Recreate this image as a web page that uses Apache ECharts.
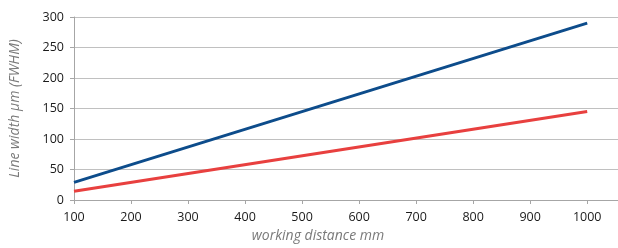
<!DOCTYPE html>
<html>
<head>
<meta charset="utf-8">
<script src="https://cdn.jsdelivr.net/npm/echarts@6/dist/echarts.min.js"></script>
<style>
  html, body { margin: 0; padding: 0; background: #fff; }
  #main { width: 618px; height: 248px; }
</style>
</head>
<body>
<div id="main"></div>
<script>
// working distance (mm) and line width (um FWHM)
const distance = [100, 1000];
const lineBlue = [29, 290];
const lineRed = [14.5, 145];
const xTicks = [100, 200, 300, 400, 500, 600, 700, 800, 900, 1000];

const chart = echarts.init(document.getElementById("main"));

const toPairs = (xs, ys) => xs.map((x, i) => [x, ys[i]]);

const option = {
  animation: false,
  textStyle: { fontFamily: "Open Sans" },
  grid: { left: 74, right: 0, top: 17, bottom: 47 },
  xAxis: {
    type: "value",
    min: 100,
    max: 1054,
    interval: 100,
    name: "working distance mm",
    nameLocation: "middle",
    nameGap: 29,
    nameTextStyle: {
      color: "#7a7a7a",
      fontStyle: "italic",
      fontSize: 14,
      padding: [0, 56, 0, 0]
    },
    axisLine: { lineStyle: { color: "#a6a6a6" } },
    axisTick: {
      show: true,
      length: 4,
      customValues: xTicks,
      lineStyle: { color: "#a6a6a6" }
    },
    axisLabel: {
      color: "#1a1a1a",
      fontSize: 12.5,
      margin: 11,
      customValues: xTicks,
      formatter: (v) => String(v)
    },
    splitLine: { show: false }
  },
  yAxis: {
    type: "value",
    min: 0,
    max: 300,
    interval: 50,
    name: "Line width µm (FWHM)",
    nameLocation: "middle",
    nameGap: 52,
    nameTextStyle: {
      color: "#7a7a7a",
      fontStyle: "italic",
      fontSize: 14
    },
    axisLine: { show: true, lineStyle: { color: "#a6a6a6" } },
    axisTick: { show: true, length: 4, lineStyle: { color: "#a6a6a6" } },
    axisLabel: { color: "#1a1a1a", fontSize: 12.5, margin: 10 },
    splitLine: { lineStyle: { color: "#c0c0c0" } }
  },
  series: [
    {
      name: "blue",
      type: "line",
      data: toPairs(distance, lineBlue),
      showSymbol: false,
      lineStyle: { color: "#0d4c8b", width: 3 },
      itemStyle: { color: "#0d4c8b" }
    },
    {
      name: "red",
      type: "line",
      data: toPairs(distance, lineRed),
      showSymbol: false,
      lineStyle: { color: "#e8403f", width: 3 },
      itemStyle: { color: "#e8403f" }
    }
  ]
};

chart.setOption(option);
</script>
</body>
</html>
